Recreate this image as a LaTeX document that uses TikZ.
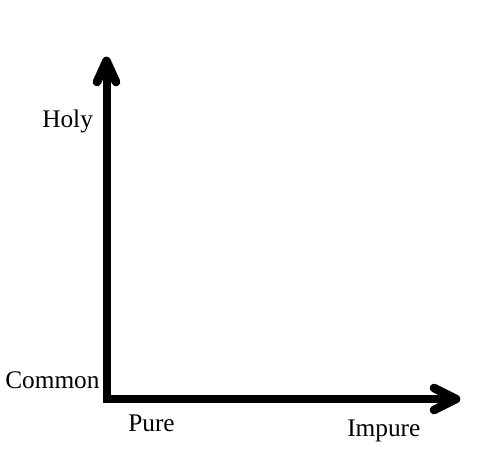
\documentclass[tikz,border=0pt]{standalone}
\usepackage{fontspec}
\setmainfont{Liberation Serif}
\begin{document}
\begin{tikzpicture}[x=0.75pt,y=-0.75pt,
  axis/.style={line width=6pt,line join=miter},
  chev/.style={line width=6.5pt,line cap=round,line join=round},
  lab/.style={anchor=base west,inner sep=0pt,font=\fontsize{19}{22}\selectfont}]
\useasboundingbox (0,0) rectangle (479,472);
\coordinate (O) at (106.5,399);
\coordinate (Y) at (106.5,61);
\coordinate (X) at (456,399);
\draw[axis] (106.5,64) -- (O) -- (452,399);
\draw[chev] (97,82) -- (Y) -- (116,82);
\draw[chev] (434,388) -- (X) -- (434,410);
\node[lab] (holy) at (42,127) {Holy};
\node[lab] (common) at (5,388) {Common};
\node[lab] (pure) at (128,431) {Pure};
\node[lab] (impure) at (347,436) {Impure};
\end{tikzpicture}
\end{document}
